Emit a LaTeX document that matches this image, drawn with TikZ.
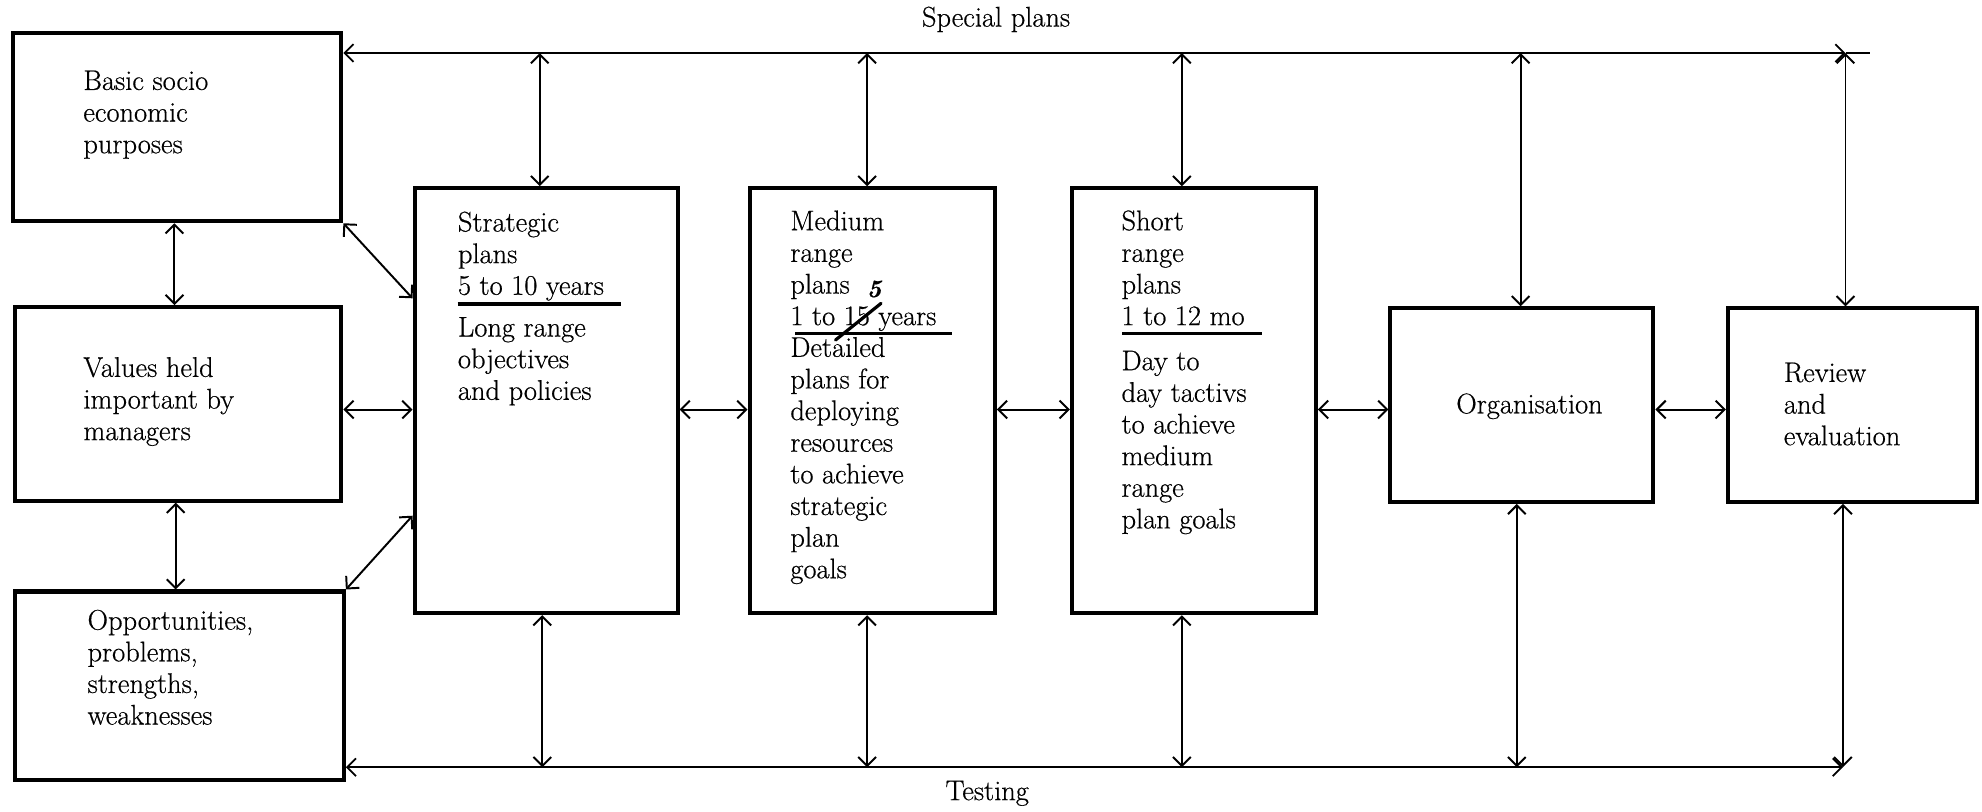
\documentclass[tikz,border=0pt]{standalone}
\usepackage{fontspec}
\setmainfont{Latin Modern Roman}[FakeBold=0.5]
\usetikzlibrary{arrows.meta}
\newcommand\lnstrut{\rule{0pt}{12pt}}

\begin{document}
\begin{tikzpicture}[x=0.025cm, y=-0.025cm,
  >={Straight Barb[length=5pt,width=10pt]},
  box/.style={draw, line width=2.3pt, inner sep=0pt},
  txt/.style={anchor=north west, inner sep=0pt, align=left, font=\fontsize{16}{17.8}\selectfont},
  lbl/.style={anchor=base, inner sep=0pt, font=\fontsize{16}{17.8}\selectfont},
  arr/.style={line width=1.1pt, <->},
  rail/.style={line width=1pt},
  uline/.style={line width=1.7pt}]

\useasboundingbox (0,0) rectangle (1568,642);

% boxes
\node[box, minimum width=6.5cm,  minimum height=3.725cm] (A)  at (140,100.5) {};
\node[box, minimum width=6.45cm, minimum height=3.825cm] (B)  at (141,319.5) {};
\node[box, minimum width=6.5cm,  minimum height=3.725cm] (C)  at (142,542.5) {};
\node[box, minimum width=5.2cm,  minimum height=8.4cm]   (S)  at (432,317) {};
\node[box, minimum width=4.85cm, minimum height=8.4cm]   (M)  at (690,317) {};
\node[box, minimum width=4.825cm,minimum height=8.4cm]   (Sh) at (944.5,317) {};
\node[box, minimum width=5.2cm,  minimum height=3.825cm] (O)  at (1204,320.5) {};
\node[box, minimum width=4.925cm,minimum height=3.825cm] (R)  at (1465.5,320.5) {};

% box texts
\node[txt] (lA) at (65.7,54) {\lnstrut Basic socio\\economic\\purposes};
\node[txt] (lB) at (65.7,281) {\lnstrut Values held\\important by\\managers};
\node[txt] (lC) at (69,481) {\lnstrut Opportunities,\\problems,\\strengths,\\weaknesses};
\node[txt] (lS) at (362,166) {\lnstrut Strategic\\plans\\5 to 10 years\\[0.2cm]Long range\\objectives\\and policies};
\node[txt] (lM) at (625,165) {\lnstrut Medium\\range\\plans\\1 to 15 years\\Detailed\\plans for\\deploying\\resources\\to achieve\\strategic\\plan\\goals};
\node[txt] (lSh) at (887,165) {\lnstrut Short\\range\\plans\\1 to 12 mo\\[0.265cm]Day to\\day tactivs\\to achieve\\medium\\range\\plan goals};
\node[lbl] (lO) at (1210,327) {Organisation};
\node[txt] (lR) at (1411,285) {\lnstrut Review\\and\\evaluation};

% rail labels
\node[lbl] (lSP) at (788,21) {Special plans};
\node[lbl] (lT)  at (781,633) {Testing};

% underlines of the time spans
\draw[uline] (362,240.5) -- (491,240.5);
\draw[uline] (629,263.6) -- (753,263.6);
\draw[uline] (888,264) -- (998,264);

% hand correction 15 -> 5
\draw[line width=1.8pt, line cap=round] (661,269) -- (697,240);
\node[anchor=base, inner sep=0pt, font=\fontsize{14}{14}\selectfont\bfseries\itshape] (fix) at (691.5,235) {5};

% helper coordinates
\coordinate (ymid) at (0,324);
\coordinate (yd1)  at (0,236);
\coordinate (yd2)  at (0,408);
\coordinate (ytop) at (0,42);
\coordinate (ybot) at (0,607);
\coordinate (xAB)  at (138,0);
\coordinate (xBC)  at (139,0);
\coordinate (tj)   at (1460,42);
\coordinate (tend) at (1479,42);
\coordinate (bj)   at (1458,607);
\coordinate (pS)   at (427,42);
\coordinate (pM)   at (686,42);
\coordinate (pSh)  at (935,42);
\coordinate (pO)   at (1203,42);
\coordinate (qS)   at (429,607);
\coordinate (qM)   at (686,607);
\coordinate (qSh)  at (935,607);
\coordinate (qO)   at (1200,607);

% special plans rail and testing rail
\draw[rail,<->] (A.east |- ytop) -- (tj);
\draw[rail] (tj) -- (tend);
\draw[rail,<->] (C.east |- ybot) -- (bj);

% drops from the special plans rail
\draw[arr] (pS)  -- (S.north -| pS);
\draw[arr] (pM)  -- (M.north -| pM);
\draw[arr] (pSh) -- (Sh.north -| pSh);
\draw[arr] (pO)  -- (O.north -| pO);
\draw[arr] (tj)  -- (R.north -| tj);

% drops to the testing rail
\draw[arr] (S.south -| qS)   -- (qS);
\draw[arr] (M.south -| qM)   -- (qM);
\draw[arr] (Sh.south -| qSh) -- (qSh);
\draw[arr] (O.south -| qO)   -- (qO);
\draw[arr] (R.south -| bj)   -- (bj);

% left column links
\draw[arr] (A.south -| xAB) -- (B.north -| xAB);
\draw[arr] (B.south -| xBC) -- (C.north -| xBC);
\draw[arr] (A.south east) -- (S.west |- yd1);
\draw[arr] (C.north east) -- (S.west |- yd2);

% main chain
\draw[arr] (B.east |- ymid)  -- (S.west |- ymid);
\draw[arr] (S.east |- ymid)  -- (M.west |- ymid);
\draw[arr] (M.east |- ymid)  -- (Sh.west |- ymid);
\draw[arr] (Sh.east |- ymid) -- (O.west |- ymid);
\draw[arr] (O.east |- ymid)  -- (R.west |- ymid);
\end{tikzpicture}
\end{document}
